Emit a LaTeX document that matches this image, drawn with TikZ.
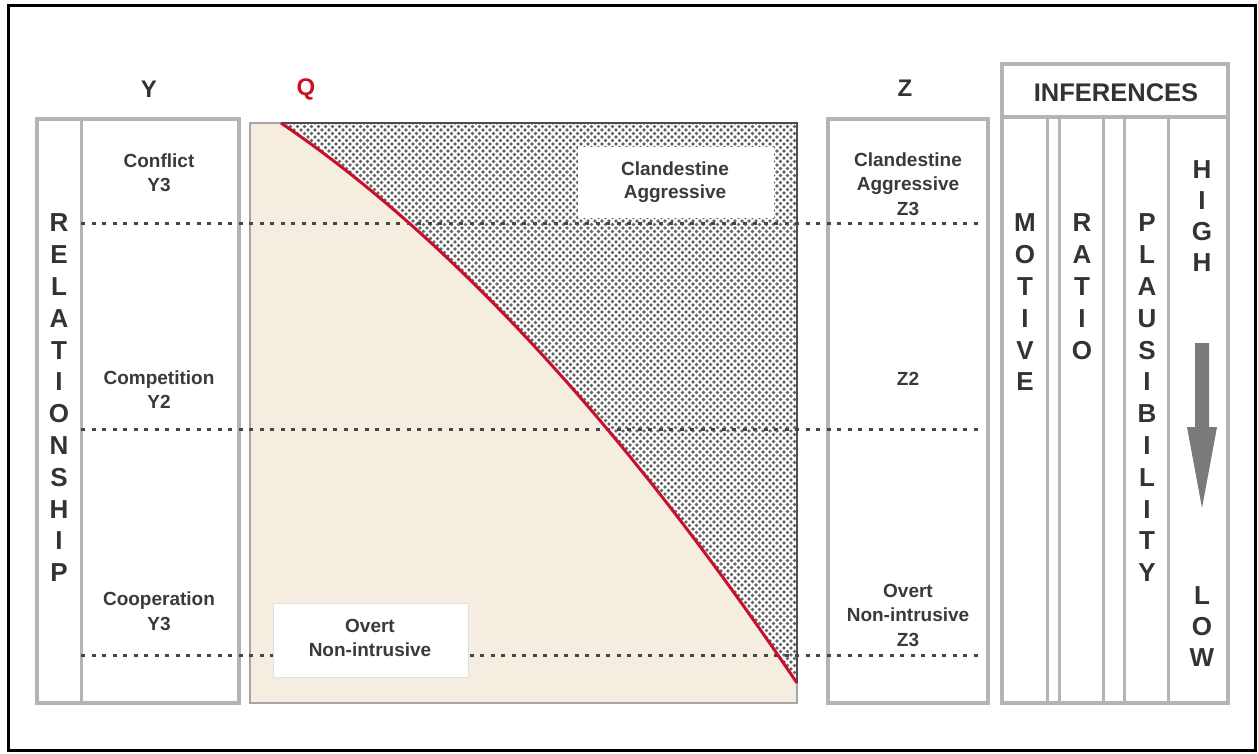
\documentclass[tikz,border=0pt]{standalone}
\usepackage{fontspec}
\setmainfont{Liberation Sans}
\usetikzlibrary{patterns}

% dense dot screen for the clandestine region
\pgfdeclarepatternformonly{dotscreen}{\pgfqpoint{-2.5pt}{-2.5pt}}{\pgfqpoint{6pt}{6pt}}{\pgfqpoint{7pt}{7pt}}{%
  \pgfpathcircle{\pgfqpoint{0pt}{0pt}}{1.8pt}%
  \pgfpathcircle{\pgfqpoint{3.5pt}{3.5pt}}{1.8pt}%
  \pgfusepath{fill}%
}

\definecolor{beige}{RGB}{244,237,224}
\definecolor{boxgray}{RGB}{180,180,180}
\definecolor{txtgray}{RGB}{58,58,58}
\definecolor{qred}{RGB}{204,20,30}
\definecolor{curvered}{RGB}{200,16,46}
\definecolor{dotgray}{RGB}{70,70,70}
\definecolor{hatchgray}{RGB}{100,100,100}
\definecolor{arrowgray}{RGB}{122,122,122}

\tikzset{
  panel/.style={draw=boxgray, line width=3.5pt},
  divider/.style={draw=boxgray, line width=3pt},
  levelline/.style={draw=dotgray, line width=3pt, dash pattern=on 4pt off 6.5pt},
  lbl/.style={text=txtgray, font=\fontsize{19}{24.5}\selectfont\bfseries, align=center, inner sep=0pt},
  vlet/.style={text=black!80, font=\fontsize{26}{26}\selectfont\bfseries, inner sep=0pt},
  axislbl/.style={font=\fontsize{24}{24}\selectfont\bfseries, inner sep=0pt},
  whitebox/.style={fill=white, line width=1pt},
}

\begin{document}
\begin{tikzpicture}[x=1pt,y=-1pt]
\useasboundingbox (0,0) rectangle (1258,753);

% outer frame
\draw[line width=3pt] (8.5,5.5) rectangle (1255.5,750.5);

% column headings
\node[axislbl, text=black!80] (ylab) at (149,89) {Y};
\node[axislbl, text=qred] (qlab) at (306,89) {Q};
\node[axislbl, text=black!80] (zlab) at (905,88) {Z};

% ---- Q panel ----
\coordinate (qtl) at (250,123);
\coordinate (qbr) at (797,703);
\coordinate (cstart) at (281,123);
\coordinate (ctr) at (797,123);
\coordinate (cend) at (797,683);
\coordinate (cc1) at (622.3,424.3);
\coordinate (cc2) at (450.3,237.7);
\fill[beige] (qtl) rectangle (qbr);
\draw[draw=black!35, line width=2pt] (797,683) -- (797,703) -- (250,703) -- (250,123) -- (cstart);
% clandestine region
\fill[white] (cstart) -- (ctr) -- (cend) .. controls (cc1) and (cc2) .. (cstart) -- cycle;
\fill[pattern=dotscreen, pattern color=hatchgray] (cstart) -- (ctr) -- (cend) .. controls (cc1) and (cc2) .. (cstart) -- cycle;
\draw[draw=black!70, line width=2pt] (cstart) -- (ctr) -- (cend);

% ---- Y panel ----
\draw[panel] (37,119) rectangle (239,703);
\draw[divider] (81,119) -- (81,703);

% ---- Z panel ----
\draw[panel] (828,119) rectangle (988,703);

% ---- level lines ----
\coordinate (l3a) at (81,223);  \coordinate (l3b) at (978,223);
\coordinate (l2a) at (81,429);  \coordinate (l2b) at (978,429);
\coordinate (l1a) at (81,655);  \coordinate (l1b) at (978,655);
\draw[levelline] (l3a) -- (l3b);
\draw[levelline] (l2a) -- (l2b);
\draw[levelline] (l1a) -- (l1b);

% labelled boxes inside Q
\draw[whitebox, draw=white] (578,147) rectangle (773,217);
\node[lbl] (clag) at (675,182) {Clandestine\\[-1.5pt]Aggressive};
\draw[whitebox, draw=black!12] (273,603) rectangle (468,677);
\node[lbl] (ovni) at (370,638) {Overt\\Non-intrusive};

% boundary curve
\draw[curvered, line width=3pt] (cend) .. controls (cc1) and (cc2) .. (cstart);

% ---- Y labels ----
\node[lbl] (y3a) at (159,172.5) {Conflict\\Y3};
\node[lbl] (y2) at (159,389.5) {Competition\\Y2};
\node[lbl] (y3b) at (159,611) {Cooperation\\Y3};

% ---- Z labels ----
\node[lbl] (z3a) at (908,184) {Clandestine\\Aggressive\\Z3};
\node[lbl] (z2) at (908,379) {Z2};
\node[lbl] (z3b) at (908,615) {Overt\\Non-intrusive\\Z3};

% vertical word RELATIONSHIP
\foreach \ch [count=\i from 0] in {R,E,L,A,T,I,O,N,S,H,I,P}
  \node[vlet] (rel\i) at (59,223+31.8*\i) {\ch};

% ---- INFERENCES panel ----
\draw[panel] (1002,64) rectangle (1228,117);
\draw[panel] (1002,117) rectangle (1228,703);
\foreach \xx in {1047,1059,1103,1124,1168}
  \draw[divider] (\xx,117) -- (\xx,703);
\node[vlet, font=\fontsize{25.5}{26}\selectfont\bfseries] (inf) at (1116,93) {INFERENCES};

\foreach \ch [count=\i from 0] in {M,O,T,I,V,E}
  \node[vlet] (mot\i) at (1025,223+31.8*\i) {\ch};
\foreach \ch [count=\i from 0] in {R,A,T,I,O}
  \node[vlet] (rat\i) at (1082,223+31.8*\i) {\ch};
\foreach \ch [count=\i from 0] in {P,L,A,U,S,I,B,I,L,I,T,Y}
  \node[vlet] (pla\i) at (1147,223+31.8*\i) {\ch};
\foreach \ch [count=\i from 0] in {H,I,G,H}
  \node[vlet] (hig\i) at (1202,170+31*\i) {\ch};
\foreach \ch [count=\i from 0] in {L,O,W}
  \node[vlet] (low\i) at (1202,596+31*\i) {\ch};

% downward arrow from HIGH to LOW
\coordinate (as1) at (1195,343);
\coordinate (as2) at (1209,343);
\coordinate (ah1) at (1209,427);
\coordinate (ah2) at (1217,427);
\coordinate (atip) at (1202,508);
\coordinate (ah3) at (1187,427);
\coordinate (ah4) at (1195,427);
\fill[arrowgray] (as1) -- (as2) -- (ah1) -- (ah2) -- (atip) -- (ah3) -- (ah4) -- cycle;

\end{tikzpicture}
\end{document}
